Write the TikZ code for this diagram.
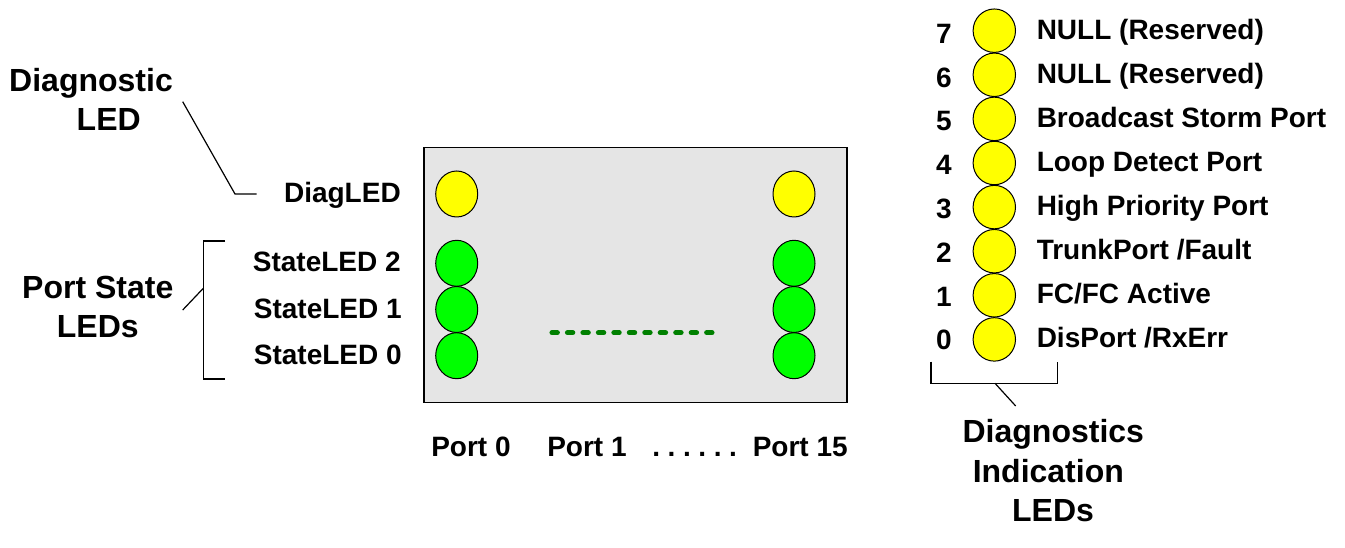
\documentclass[tikz,border=0pt]{standalone}
\usepackage{fontspec}
\setmainfont{Liberation Sans}
\usetikzlibrary{shapes.geometric}
\definecolor{ledyellow}{RGB}{255,255,0}
\definecolor{ledgreen}{RGB}{0,255,0}
\definecolor{boxgray}{RGB}{229,229,229}
\definecolor{dotgreen}{RGB}{0,128,0}
\tikzset{
  small/.style={inner sep=0pt, font=\fontsize{21pt}{24pt}\selectfont\bfseries},
  big/.style={inner sep=0pt, font=\fontsize{24pt}{30pt}\selectfont\bfseries},
  portled/.style={ellipse, draw=black, line width=0.75pt, minimum width=31.5pt, minimum height=34.5pt, inner sep=0pt},
  diagled/.style={ellipse, draw=black, line width=0.75pt, minimum width=31.8pt, minimum height=32.6pt, inner sep=0pt, fill=ledyellow},
  callout/.style={draw=black, line width=0.9pt},
}
\begin{document}
\begin{tikzpicture}[x=0.75pt,y=-0.75pt]
\useasboundingbox (0,0) rectangle (1345,548);
% panel box
\node[draw=black, line width=1.1pt, fill=boxgray, minimum width=317.25pt, minimum height=191.25pt, inner sep=0pt] (box) at (635.7,274.8) {};
% port 0 LEDs
\node[portled, fill=ledyellow] (d0) at (456.7,194) {};
\node[portled, fill=ledgreen] (s02) at (456.7,263.3) {};
\node[portled, fill=ledgreen] (s01) at (456.7,309.5) {};
\node[portled, fill=ledgreen] (s00) at (456.7,355.7) {};
% port 15 LEDs
\node[portled, fill=ledyellow] (d15) at (794,194) {};
\node[portled, fill=ledgreen] (s152) at (794,263.3) {};
\node[portled, fill=ledgreen] (s151) at (794,309.5) {};
\node[portled, fill=ledgreen] (s150) at (794,355.7) {};
% dotted line
\coordinate (dl) at (552,332.7);
\coordinate (dr) at (720,332.7);
\draw[dotgreen, line width=3.8pt, line cap=round, dash pattern=on 4pt off 7.6pt] (dl) -- (dr);
% left labels
\node[small, anchor=base east] (ldiag) at (401,202.7) {DiagLED};
\node[small, anchor=base east] (ls2) at (401,272) {StateLED 2};
\node[small, anchor=base east] (ls1) at (402,318.5) {StateLED 1};
\node[small, anchor=base east] (ls0) at (402,365) {StateLED 0};
% port labels
\node[small, anchor=base west] (p0) at (431,456) {Port 0};
\node[small, anchor=base west] (p1) at (547,456) {Port 1};
\node[small, anchor=base west] (pd) at (652,456) {.\kern5.7pt.\kern5.7pt.\kern5.7pt.\kern5.7pt.\kern5.7pt.};
\node[small, anchor=base west] (p15) at (752.5,456) {Port 15};
% Diagnostic LED callout
\node[big, anchor=base] (tdiag1) at (91,91.7) {Diagnostic};
\node[big, anchor=base] (tdiag2) at (108.7,131) {LED};
\coordinate (c1) at (182.7,101.7);
\coordinate (c2) at (235,194);
\coordinate (c3) at (256.7,194);
\draw[callout] (c1) -- (c2) -- (c3);
% Port State LEDs bracket
\node[big, anchor=base] (tps1) at (97.8,299) {Port State};
\node[big, anchor=base] (tps2) at (97.8,338) {LEDs};
\coordinate (b1) at (225,241);
\coordinate (b2) at (203.3,241);
\coordinate (b3) at (203.3,379);
\coordinate (b4) at (225,379);
\coordinate (bm) at (203.3,288.3);
\coordinate (bt) at (182.7,310);
\draw[callout] (b1) -- (b2) -- (b3) -- (b4);
\draw[callout] (bm) -- (bt);
% diagnostics indication column
\foreach \i/\txt [count=\k from 0] in {7/{NULL (Reserved)},6/{NULL (Reserved)},5/{Broadcast Storm Port},4/{Loop Detect Port},3/{High Priority Port},2/{TrunkPort /Fault},1/{FC/FC Active},0/{DisPort /RxErr}}{
  \node[diagled] (r\i) at (994.3,30.7+44.1*\k) {};
  \node[small, anchor=base] (n\i) at (944,43.3+43.8*\k) {\i};
  \node[small, anchor=base west] (t\i) at (1036.5,39.3+44.06*\k) {\txt};
}
\coordinate (e1) at (931,361.7);
\coordinate (e2) at (931,383.3);
\coordinate (e3) at (1057.7,383.3);
\coordinate (e4) at (1057.7,361.7);
\coordinate (em) at (995,383.3);
\coordinate (et) at (1015.7,406);
\draw[callout] (e1) -- (e2) -- (e3) -- (e4);
\draw[callout] (em) -- (et);
\node[big, anchor=base] (tdi1) at (1053.3,443) {Diagnostics};
\node[big, anchor=base] (tdi2) at (1048.3,482.5) {Indication};
\node[big, anchor=base] (tdi3) at (1053,521.5) {LEDs};
\end{tikzpicture}
\end{document}
